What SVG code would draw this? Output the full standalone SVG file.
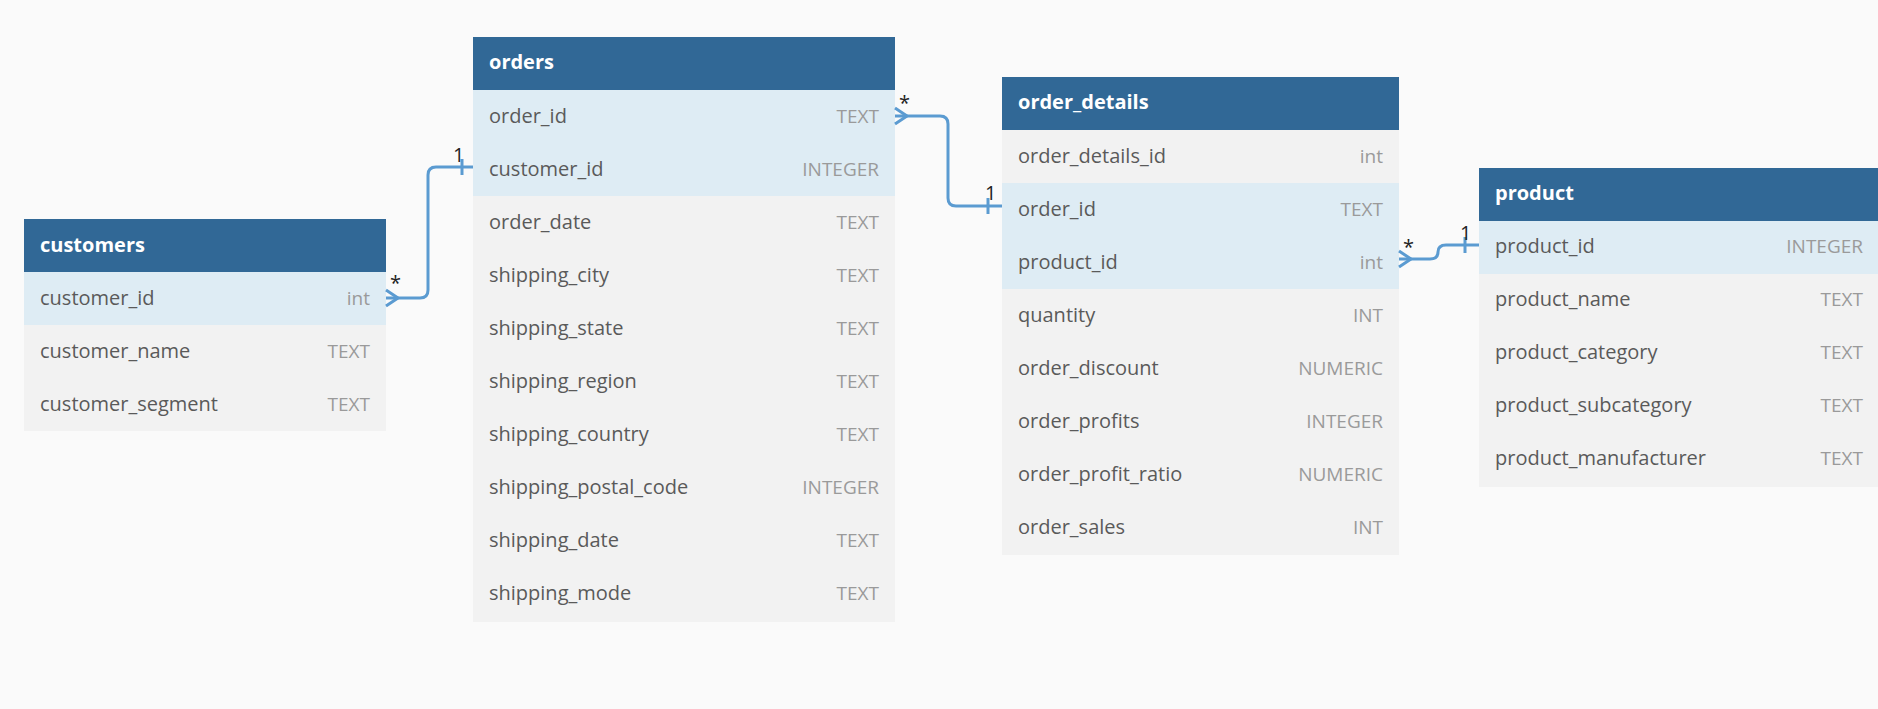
<svg xmlns="http://www.w3.org/2000/svg" width="1878" height="709" viewBox="0 0 1878 709">
<style>
.hd{fill:#316896}
.ht{fill:#fff;font:bold 20px "Open Sans",sans-serif}
.k{fill:#deecf4}
.r{fill:#f2f2f2}
.n{fill:#5a5a5a;font:20px "Open Sans",sans-serif}
.t{fill:#9a9a9a;font:19px "Open Sans",sans-serif;text-anchor:end}
.c{fill:none;stroke:#5b9bd1;stroke-width:3}
.lb{fill:#222;font:20px "Open Sans",sans-serif}
</style>
<rect width="1878" height="709" fill="#fafafa"/>
<g id="customers">
<rect class="hd" x="24" y="219" width="362" height="53"/><text class="ht" x="40" y="252">customers</text>
<rect class="k" x="24" y="272" width="362" height="53"/><text class="n" x="40" y="305">customer_id</text><text class="t" x="370" y="305">int</text>
<rect class="r" x="24" y="325" width="362" height="106"/><text class="n" x="40" y="358">customer_name</text><text class="t" x="370" y="358">TEXT</text>
<text class="n" x="40" y="411">customer_segment</text><text class="t" x="370" y="411">TEXT</text>
</g>
<g id="orders">
<rect class="hd" x="473" y="37" width="422" height="53"/><text class="ht" x="489" y="69">orders</text>
<rect class="k" x="473" y="90" width="422" height="106"/>
<rect class="r" x="473" y="196" width="422" height="426"/>
<g class="n"><text x="489" y="123">order_id</text><text x="489" y="176">customer_id</text><text x="489" y="229">order_date</text><text x="489" y="282">shipping_city</text><text x="489" y="335">shipping_state</text><text x="489" y="388">shipping_region</text><text x="489" y="441">shipping_country</text><text x="489" y="494">shipping_postal_code</text><text x="489" y="547">shipping_date</text><text x="489" y="600">shipping_mode</text></g>
<g class="t"><text x="879" y="123">TEXT</text><text x="879" y="176">INTEGER</text><text x="879" y="229">TEXT</text><text x="879" y="282">TEXT</text><text x="879" y="335">TEXT</text><text x="879" y="388">TEXT</text><text x="879" y="441">TEXT</text><text x="879" y="494">INTEGER</text><text x="879" y="547">TEXT</text><text x="879" y="600">TEXT</text></g>
</g>
<g id="order_details">
<rect class="hd" x="1002" y="77" width="397" height="53"/><text class="ht" x="1018" y="109">order_details</text>
<rect class="r" x="1002" y="130" width="397" height="53"/>
<rect class="k" x="1002" y="183" width="397" height="106"/>
<rect class="r" x="1002" y="289" width="397" height="266"/>
<g class="n"><text x="1018" y="163">order_details_id</text><text x="1018" y="216">order_id</text><text x="1018" y="269">product_id</text><text x="1018" y="322">quantity</text><text x="1018" y="375">order_discount</text><text x="1018" y="428">order_profits</text><text x="1018" y="481">order_profit_ratio</text><text x="1018" y="534">order_sales</text></g>
<g class="t"><text x="1383" y="163">int</text><text x="1383" y="216">TEXT</text><text x="1383" y="269">int</text><text x="1383" y="322">INT</text><text x="1383" y="375">NUMERIC</text><text x="1383" y="428">INTEGER</text><text x="1383" y="481">NUMERIC</text><text x="1383" y="534">INT</text></g>
</g>
<g id="product">
<rect class="hd" x="1479" y="168" width="399" height="53"/><text class="ht" x="1495" y="200">product</text>
<rect class="k" x="1479" y="221" width="399" height="53"/>
<rect class="r" x="1479" y="274" width="399" height="213"/>
<g class="n"><text x="1495" y="253">product_id</text><text x="1495" y="306">product_name</text><text x="1495" y="359">product_category</text><text x="1495" y="412">product_subcategory</text><text x="1495" y="465">product_manufacturer</text></g>
<g class="t"><text x="1863" y="253">INTEGER</text><text x="1863" y="306">TEXT</text><text x="1863" y="359">TEXT</text><text x="1863" y="412">TEXT</text><text x="1863" y="465">TEXT</text></g>
</g>
<g id="connectors">
<path class="c" d="M386 298 H420 Q428 298 428 290 V175 Q428 167 436 167 H473"/>
<path class="c" d="M386 290 L398 298 L386 306 M462 159 V175"/>
<text class="lb" x="390" y="290">*</text><text class="lb" x="453" y="162">1</text>
<path class="c" d="M895 116 H940 Q948 116 948 124 V198 Q948 206 956 206 H1002"/>
<path class="c" d="M895 108 L907 116 L895 124 M988 198 V214"/>
<text class="lb" x="899" y="110">*</text><text class="lb" x="985" y="200">1</text>
<path class="c" d="M1399 259 H1430 Q1438 259 1438 252 Q1438 245 1446 245 H1479"/>
<path class="c" d="M1399 251 L1411 259 L1399 267 M1465 237 V253"/>
<text class="lb" x="1403" y="254">*</text><text class="lb" x="1460" y="240">1</text>
</g>
</svg>
